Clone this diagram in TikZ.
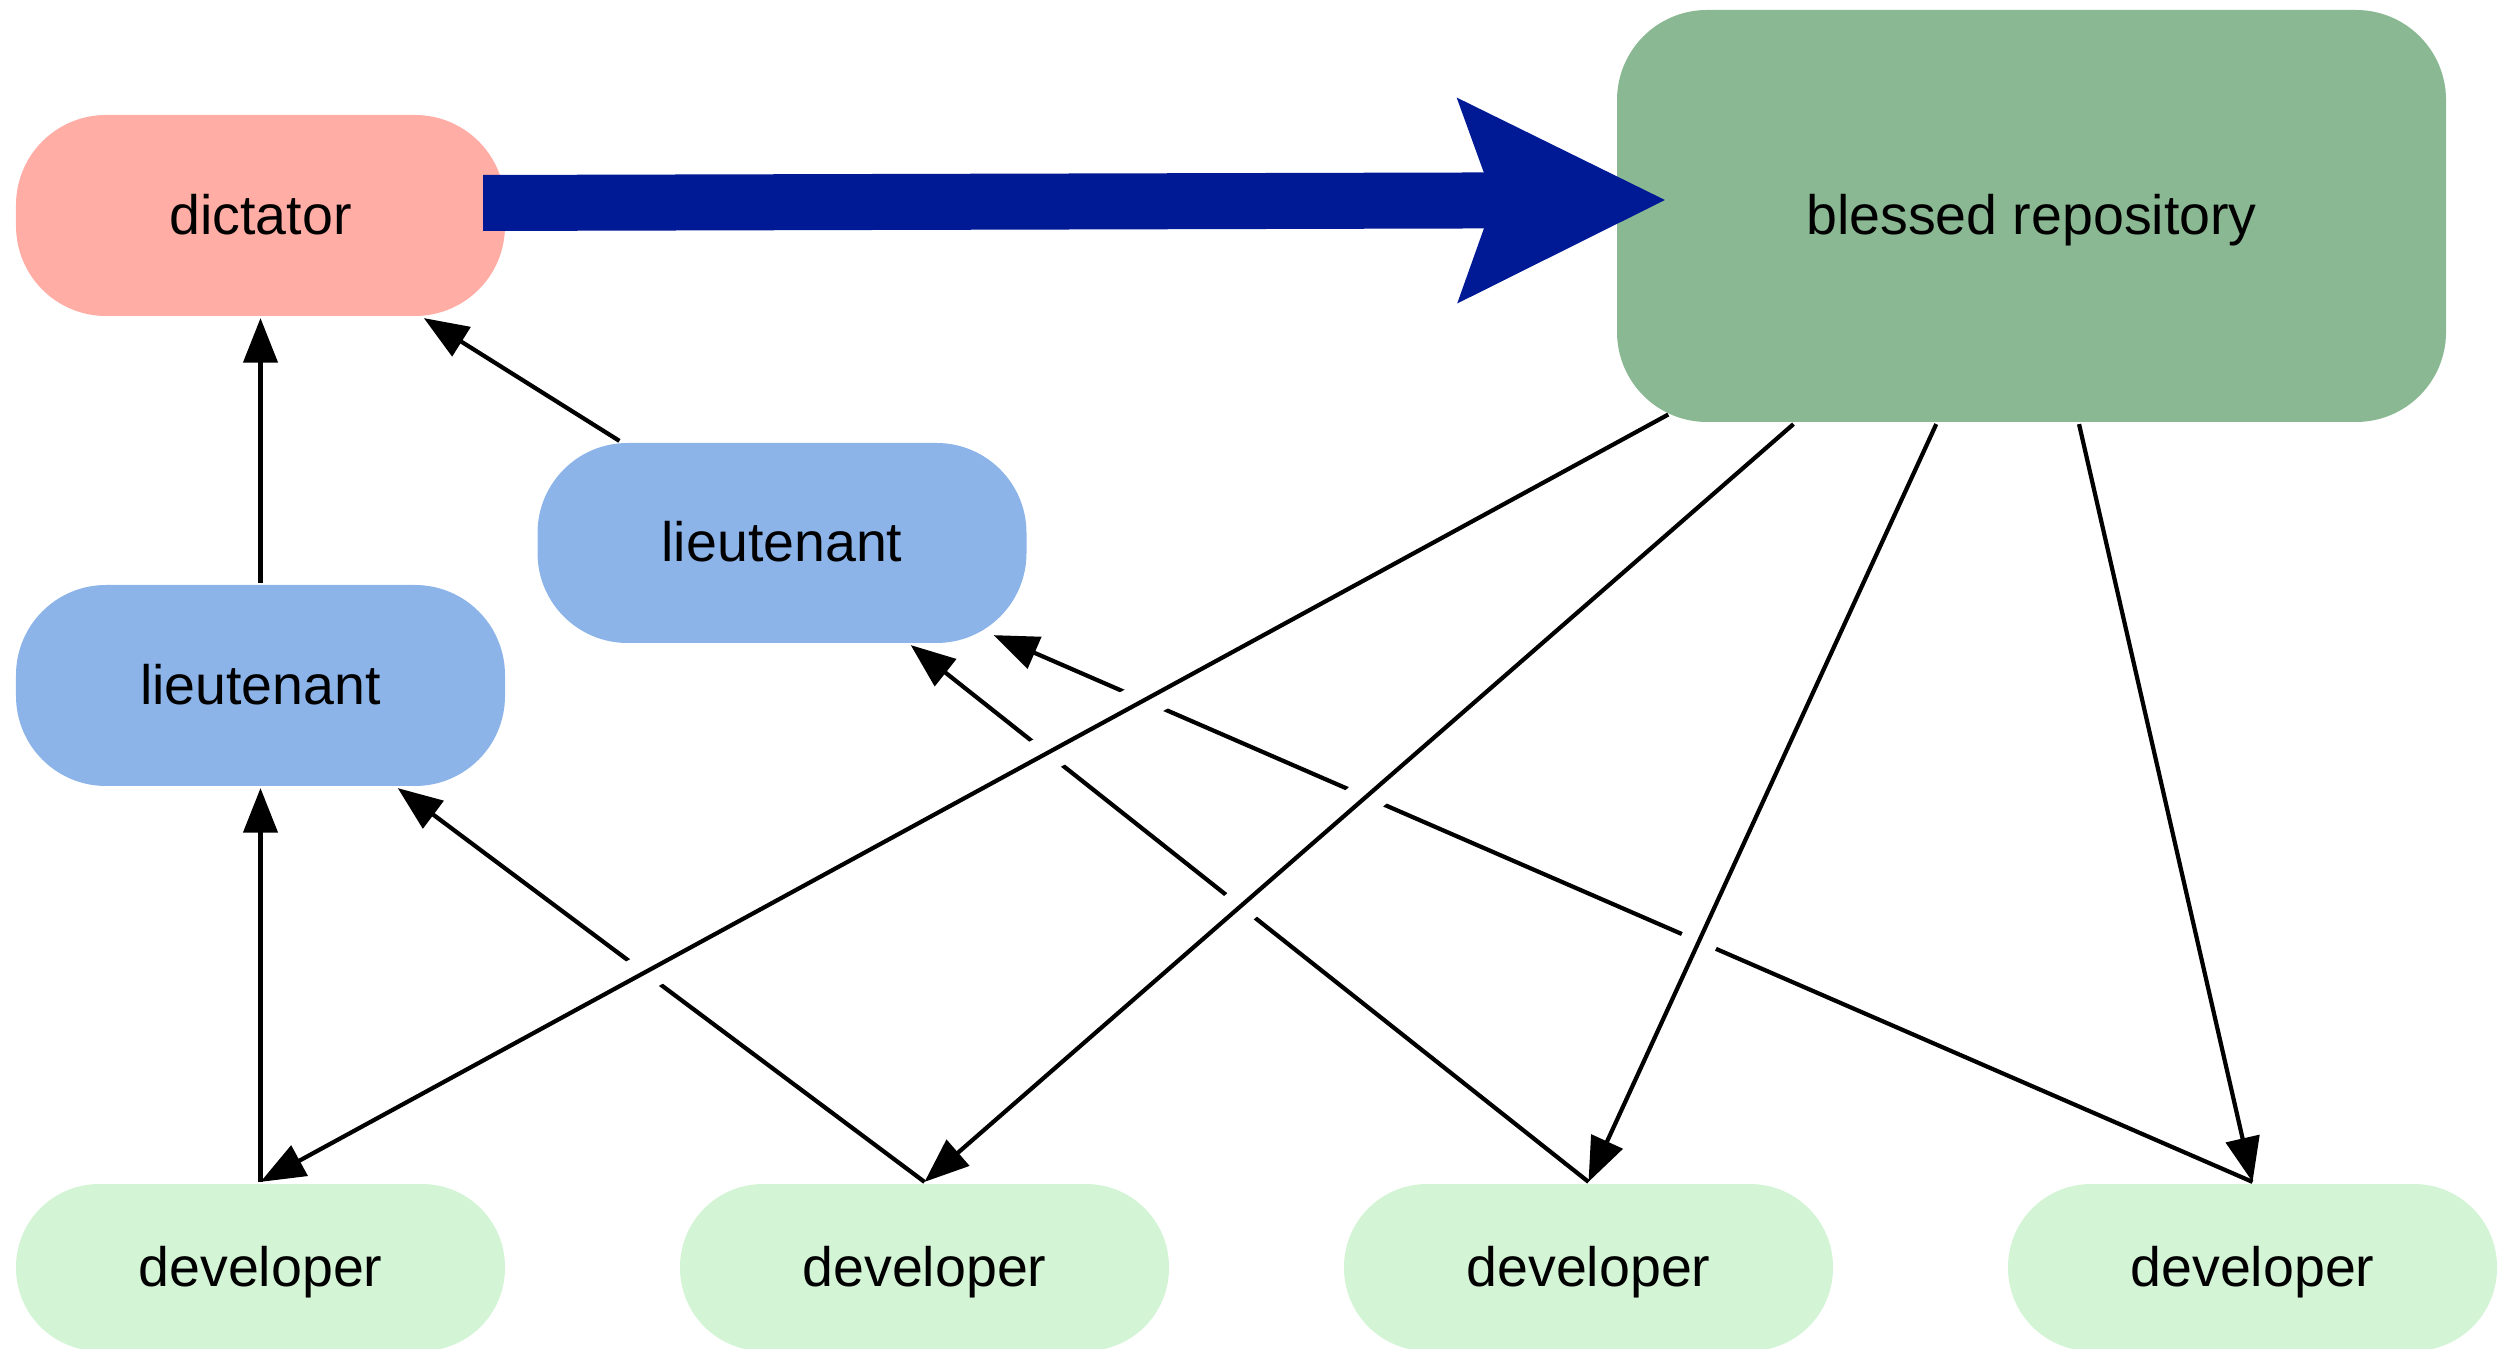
\documentclass[tikz,border=0pt]{standalone}
\usepackage{fontspec}
\setmainfont{Liberation Sans}
\usetikzlibrary{arrows.meta, calc}
\definecolor{cdict}{HTML}{FFADA5}
\definecolor{clieut}{HTML}{8CB4E9}
\definecolor{crepo}{HTML}{8AB893}
\definecolor{cdev}{HTML}{D4F4D6}
\definecolor{cpush}{HTML}{001994}
\tikzset{
  every picture/.style={line width=1.2pt},
  box/.style={fill=#1, rounded corners=0.9cm, inner sep=0pt, minimum width=4.89cm, minimum height=2cm,
    text height=14.2pt, text depth=3.5pt, font=\fontsize{15.8}{19}\selectfont},
  box/.default=cdev,
  devbox/.style={box=cdev, rounded corners=0.83cm, minimum height=1.67cm},
  edge/.style={-{Triangle[length=4.45mm, width=3.4mm]}, draw=black},
  halo/.style={draw=white, line width=10.5pt, shorten <=3mm, shorten >=8mm},
  push/.style={-{Stealth[length=2.08cm, width=2.06cm, inset=3.7mm, line width=0pt]}, draw=cpush, line width=0.56cm},
}
\begin{document}
\begin{tikzpicture}
  \useasboundingbox (0,0) rectangle (25.15,-13.49);
  \node[box=cdict, minimum height=2.01cm] (dict) at (2.605,-2.155) {dictator};
  \node[box=crepo, minimum width=8.29cm, minimum height=4.12cm] (repo) at (20.315,-2.16) {blessed repository};
  \node[box=clieut] (lt2) at (7.82,-5.43) {lieutenant};
  \node[box=clieut, minimum height=2.01cm] (lt1) at (2.605,-6.855) {lieutenant};
  \node[devbox] (dev1) at (2.605,-12.675) {developer};
  \node[devbox] (dev2) at (9.245,-12.675) {developer};
  \node[devbox] (dev3) at (15.885,-12.675) {developer};
  \node[devbox] (dev4) at (22.525,-12.675) {developer};
  % developers to lieutenants, lieutenants to dictator
  \draw[edge] (dev1.north) -- (lt1);
  \draw[edge] (dev2.north) -- (lt1);
  \draw[edge] (dev3.north) -- (lt2);
  \draw[edge, shorten >=-2.5mm] (dev4.north) -- (lt2);
  \draw[edge] (lt1) -- (dict);
  \draw[edge] (lt2) -- (dict);
  % blessed repository to developers
  \foreach \d in {1,...,4}
    \draw[halo] (repo) -- (dev\d.north);
  \foreach \d/\s in {1/-2mm, 2/0mm, 3/0mm, 4/0mm}
    \draw[edge, shorten <=\s] (repo) -- (dev\d.north);
  \draw[push] ($(dict.east)+(-0.24,0.125)$) -- ($(repo.west)+(0.5,0.16)$);
\end{tikzpicture}
\end{document}
